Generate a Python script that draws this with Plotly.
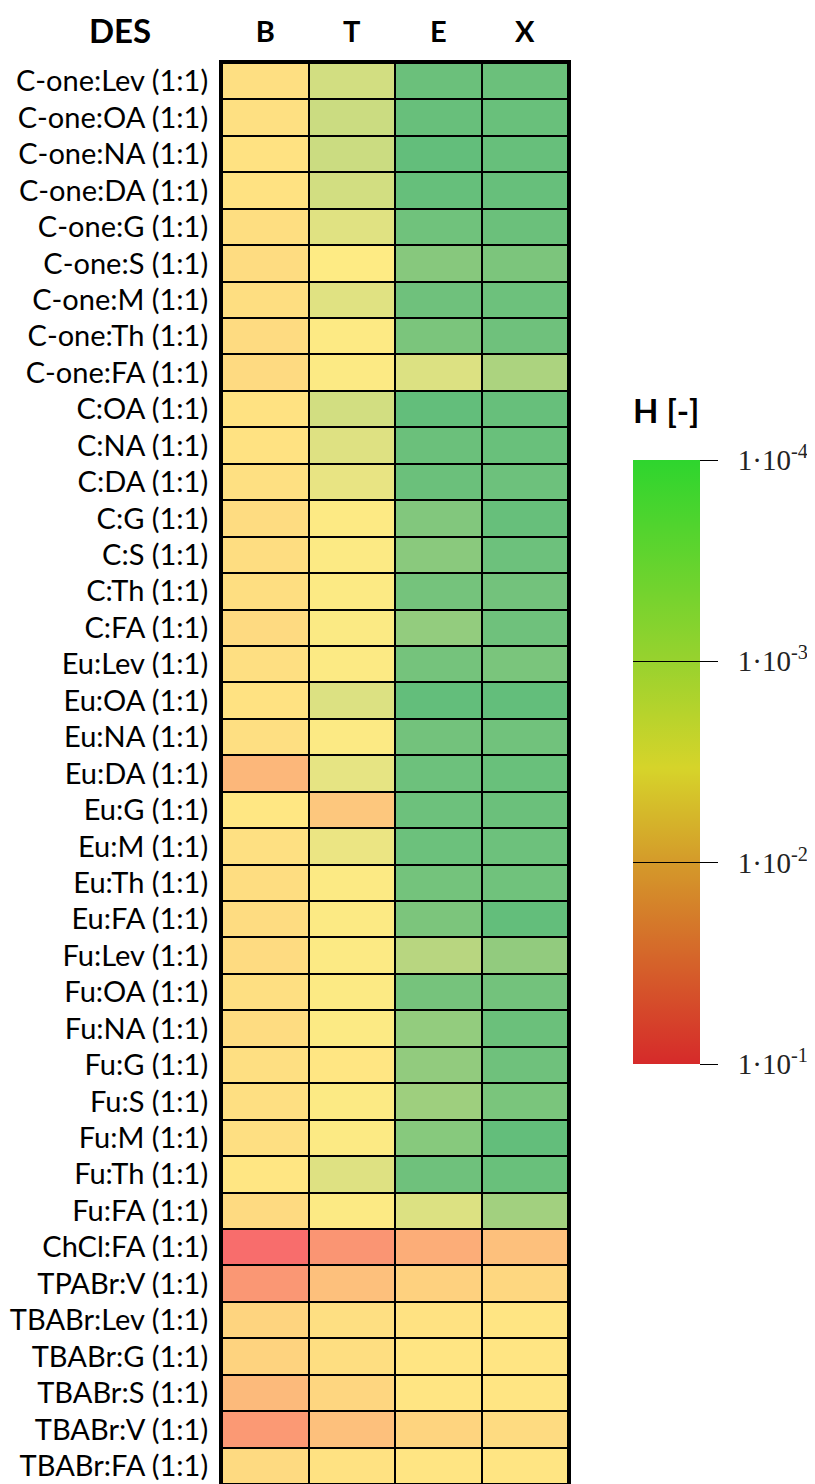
import plotly.graph_objects as go
import math

# ---------------- data ----------------
des = [
    "C-one:Lev (1:1)", "C-one:OA (1:1)", "C-one:NA (1:1)", "C-one:DA (1:1)",
    "C-one:G (1:1)", "C-one:S (1:1)", "C-one:M (1:1)", "C-one:Th (1:1)",
    "C-one:FA (1:1)", "C:OA (1:1)", "C:NA (1:1)", "C:DA (1:1)", "C:G (1:1)",
    "C:S (1:1)", "C:Th (1:1)", "C:FA (1:1)", "Eu:Lev (1:1)", "Eu:OA (1:1)",
    "Eu:NA (1:1)", "Eu:DA (1:1)", "Eu:G (1:1)", "Eu:M (1:1)", "Eu:Th (1:1)",
    "Eu:FA (1:1)", "Fu:Lev (1:1)", "Fu:OA (1:1)", "Fu:NA (1:1)", "Fu:G (1:1)",
    "Fu:S (1:1)", "Fu:M (1:1)", "Fu:Th (1:1)", "Fu:FA (1:1)", "ChCl:FA (1:1)",
    "TPABr:V (1:1)", "TBABr:Lev (1:1)", "TBABr:G (1:1)", "TBABr:S (1:1)",
    "TBABr:V (1:1)", "TBABr:FA (1:1)",
]
columns = ["B", "T", "E", "X"]

H_B = [4.3e-3, 4.2e-3, 4.0e-3, 4.0e-3, 4.5e-3, 4.7e-3, 4.5e-3, 4.9e-3,
       5.0e-3, 4.0e-3, 4.0e-3, 4.2e-3, 4.7e-3, 4.6e-3, 4.5e-3, 5.0e-3,
       4.4e-3, 4.0e-3, 4.4e-3, 1.26e-2, 3.5e-3, 4.2e-3, 4.6e-3, 4.7e-3,
       4.9e-3, 4.4e-3, 4.7e-3, 4.4e-3, 4.4e-3, 4.4e-3, 3.6e-3, 5.0e-3,
       8.9e-2, 2.95e-2, 5.9e-3, 6.0e-3, 1.15e-2, 2.8e-2, 5.0e-3]
H_T = [1.17e-3, 1.0e-3, 1.0e-3, 1.17e-3, 1.58e-3, 3.1e-3, 1.58e-3, 3.0e-3,
       2.95e-3, 1.17e-3, 1.51e-3, 1.9e-3, 3.0e-3, 2.95e-3, 2.95e-3, 2.9e-3,
       2.95e-3, 1.45e-3, 2.95e-3, 1.82e-3, 8.3e-3, 2.04e-3, 2.95e-3, 2.95e-3,
       2.95e-3, 2.95e-3, 2.95e-3, 3.6e-3, 2.95e-3, 2.95e-3, 1.51e-3, 2.95e-3,
       3.1e-2, 1.0e-2, 4.3e-3, 4.5e-3, 5.5e-3, 1.0e-2, 4.0e-3]
H_E = [1.2e-4, 1.12e-4, 1.0e-4, 1.07e-4, 1.32e-4, 2.2e-4, 1.29e-4, 1.7e-4,
       1.45e-3, 1.0e-4, 1.2e-4, 1.2e-4, 2.0e-4, 2.35e-4, 1.48e-4, 2.9e-4,
       1.48e-4, 1.0e-4, 1.41e-4, 1.26e-4, 1.26e-4, 1.23e-4, 1.45e-4, 1.74e-4,
       6.5e-4, 1.51e-4, 2.9e-4, 2.8e-4, 3.7e-4, 2.24e-4, 1.29e-4, 1.45e-3,
       1.66e-2, 6.3e-3, 4.0e-3, 3.7e-3, 3.7e-3, 5.9e-3, 3.7e-3]
H_X = [1.2e-4, 1.15e-4, 1.1e-4, 1.1e-4, 1.2e-4, 1.74e-4, 1.26e-4, 1.29e-4,
       5.0e-4, 1.1e-4, 1.15e-4, 1.26e-4, 1.1e-4, 1.26e-4, 1.41e-4, 1.29e-4,
       1.66e-4, 1.0e-4, 1.35e-4, 1.15e-4, 1.2e-4, 1.26e-4, 1.32e-4, 1.0e-4,
       2.8e-4, 1.41e-4, 1.2e-4, 1.29e-4, 1.66e-4, 1.0e-4, 1.15e-4, 4.0e-4,
       1.0e-2, 5.4e-3, 3.7e-3, 3.7e-3, 3.7e-3, 4.8e-3, 3.7e-3]

cbar_tickvals = [1, 2, 3, 4]
cbar_ticktext = ["1·10<sup>-1</sup>", "1·10<sup>-2</sup>",
                 "1·10<sup>-3</sup>", "1·10<sup>-4</sup>"]

# ---------------- build ----------------
series = [H_B, H_T, H_E, H_X]
# v = -log10(H)
z = [[-math.log10(s[i]) for s in series] for i in range(len(des))]

cell_scale = [[0.0, "#F8696B"], [0.5, "#FFEB84"], [1.0, "#63BE7B"]]
bar_scale = [[0.0, "#D62A2A"], [0.333, "#D49A2A"], [0.49, "#D6D42A"],
             [0.667, "#98D22E"], [1.0, "#2ED52E"]]

FONT = "Lato"
W, Hpx = 815, 1484
OFF = 8  # page body offset
ML, MR, MT, MB = 222 - OFF, 815 - 568 + OFF, 63 - OFF, OFF
PW, PH = W - ML - MR, Hpx - MT - MB

fig = go.Figure()
fig.add_trace(go.Heatmap(
    z=z, x=columns, y=des, colorscale=cell_scale, zmin=1, zmax=4,
    xgap=2, ygap=2, showscale=False, hoverinfo="skip",
))

cb_x = (633 - OFF - ML) / PW
cb_y = (Hpx - MB - (460 - OFF)) / PH
common_cb = dict(
    thickness=67, thicknessmode="pixels", len=604, lenmode="pixels",
    x=cb_x, xanchor="left", y=cb_y, yanchor="top",
    xpad=0, ypad=0, outlinewidth=0, tickvals=cbar_tickvals,
)
# colorbar with outside ticks and labels
fig.add_trace(go.Scatter(
    x=["B"], y=[des[0]], mode="markers", hoverinfo="skip", showlegend=False,
    marker=dict(size=1, opacity=0, color=[2.5], cmin=1, cmax=4,
                colorscale=bar_scale, showscale=True,
                colorbar=dict(**common_cb, ticks="outside", ticklen=18,
                              tickwidth=1.3, tickcolor="black",
                              ticktext=["\u00a0\u00a0" + t for t in cbar_ticktext],
                              tickfont=dict(family="Liberation Serif", size=29, color="#222"))),
))
# overlay colorbar with inside ticks crossing the bar
fig.add_trace(go.Scatter(
    x=["B"], y=[des[0]], mode="markers", hoverinfo="skip", showlegend=False,
    marker=dict(size=1, opacity=0, color=[2.5], cmin=1, cmax=4,
                colorscale=bar_scale, showscale=True,
                colorbar=dict(**common_cb, ticks="inside", ticklen=67,
                              tickwidth=1.3, tickcolor="black",
                              showticklabels=False)),
))

fig.update_xaxes(side="top", tickvals=columns, range=[-0.5, 3.5],
                 ticktext=[f"<b>{c}</b>" for c in columns],
                 tickfont=dict(family=FONT, size=29, color="black"),
                 ticks="", ticklabelstandoff=6, automargin=False,
                 showline=True, linewidth=3, linecolor="black", mirror=True,
                 showgrid=False, zeroline=False, fixedrange=True)
fig.update_yaxes(range=[len(des) - 0.5, -0.5],
                 tickfont=dict(family=FONT, size=29, color="black"),
                 ticks="", ticklabelstandoff=5, automargin=False,
                 showline=True, linewidth=3, linecolor="black", mirror=True,
                 showgrid=False, zeroline=False, fixedrange=True)

fig.add_annotation(text="<b>DES</b>", xref="paper", yref="paper", x=0, y=1,
                   xshift=-102, yshift=33, showarrow=False,
                   font=dict(family=FONT, size=33, color="black"),
                   xanchor="center", yanchor="middle")
fig.add_annotation(text="<b>H [-]</b>", xref="paper", yref="paper",
                   x=cb_x, y=cb_y, xshift=-2,
                   yshift=50, showarrow=False,
                   font=dict(family=FONT, size=33, color="black"),
                   xanchor="left", yanchor="middle")

fig.update_layout(
    width=W, height=Hpx,
    margin=dict(l=ML, r=MR, t=MT, b=MB, autoexpand=False),
    plot_bgcolor="black", paper_bgcolor="white",
    showlegend=False,
)

fig.write_html("out.html")
